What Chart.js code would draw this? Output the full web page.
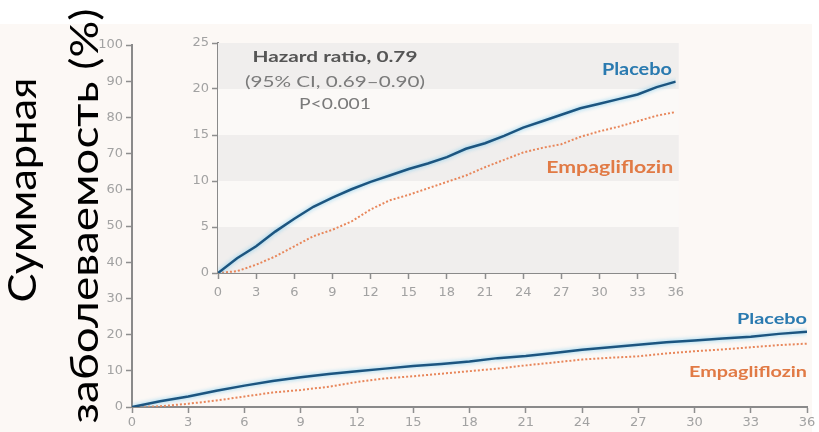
<!DOCTYPE html>
<html lang="ru">
<head>
<meta charset="UTF-8">
<title>Суммарная заболеваемость</title>
<script src="https://cdn.jsdelivr.net/npm/chart.js"></script>
<style>
  html, body { margin: 0; padding: 0; background: #fff; }
  #wrap { position: relative; width: 819px; height: 432px; overflow: hidden; }
  #mainChart { position: absolute; left: 0; top: 0; }
  #insetChart { position: absolute; left: 160px; top: 30px; }
</style>
</head>
<body>
<div id="wrap">
  <canvas id="mainChart" width="819" height="432"></canvas>
  <canvas id="insetChart" width="530" height="272"></canvas>
</div>
<script>
// месяцы наблюдения
const months = [0, 1.5, 3, 4.5, 6, 7.5, 9, 10.5, 12, 13.5, 15, 16.5, 18,
                19.5, 21, 22.5, 24, 25.5, 27, 28.5, 30, 31.5, 33, 34.5, 36];
// кумулятивная частота, %
const placebo = [0, 1.6, 2.9, 4.5, 5.9, 7.2, 8.2, 9.1, 9.9, 10.6, 11.3, 11.9, 12.6,
                 13.5, 14.1, 14.9, 15.8, 16.5, 17.2, 17.9, 18.4, 18.9, 19.4, 20.2, 20.8];
const empagliflozin = [0, 0.2, 0.9, 1.8, 2.9, 4.0, 4.7, 5.6, 6.9, 7.9, 8.5, 9.2, 9.9,
                       10.6, 11.5, 12.3, 13.1, 13.6, 14.0, 14.8, 15.4, 15.9, 16.5, 17.1, 17.5];

const xTicks = [0, 3, 6, 9, 12, 15, 18, 21, 24, 27, 30, 33, 36];
const mainYTicks = [0, 10, 20, 30, 40, 50, 60, 70, 80, 90, 100];
const insetYTicks = [0, 5, 10, 15, 20, 25];
const titleLines = ["Суммарная", "заболеваемость (%)"];
const hazardLines = ["Hazard ratio, 0.79", "(95% CI, 0.69–0.90)", "P<0.001"];

const blue = "#1c5580";
const blueText = "#2a7ab0";
const orange = "#e8865a";
const orangeText = "#e17a45";
const axisGray = "#8a8a8a";
const tickFont = { family: "DejaVu Sans", size: 13 };

function points(ys) {
  return months.map((m, i) => ({ x: m, y: ys[i] }));
}

function datasets() {
  return [
    {
      label: "Placebo",
      data: points(placebo),
      borderColor: blue,
      borderWidth: 2.5,
      pointRadius: 0,
      tension: 0,
      glow: true
    },
    {
      label: "Empagliflozin",
      data: points(empagliflozin),
      borderColor: orange,
      borderWidth: 2,
      borderDash: [2, 2],
      pointRadius: 0,
      tension: 0
    }
  ];
}

function axis(min, max, ticksList, fit, pad) {
  return {
    type: "linear",
    min: min,
    max: max,
    afterBuildTicks: s => { s.ticks = ticksList.map(v => ({ value: v })); },
    afterFit: fit,
    border: { display: true, color: axisGray, width: 2 },
    grid: { display: true, drawOnChartArea: false, drawTicks: true, tickLength: 6, color: "#8e8e8e", tickColor: "#8e8e8e", tickWidth: 1.5 },
    ticks: { autoSkip: false, color: "#a2a2a2", font: tickFont, padding: pad, maxRotation: 0 }
  };
}

// мягкое голубое свечение вокруг линии плацебо
const glowPlugin = {
  id: "glow",
  beforeDatasetDraw(chart, args) {
    const ds = chart.data.datasets[args.index];
    chart.ctx.save();
    if (ds.glow) {
      chart.ctx.shadowColor = "rgba(110,200,240,0.9)";
      chart.ctx.shadowBlur = 4;
    }
  },
  afterDatasetDraw(chart) {
    chart.ctx.restore();
  }
};

// подписи линий и текст в координатах данных; ширина подгоняется растяжением
const labelsPlugin = {
  id: "labels",
  afterDatasetsDraw(chart, args, opts) {
    const ctx = chart.ctx;
    const xs = chart.scales.x, ys = chart.scales.y;
    (opts.items || []).forEach(it => {
      ctx.save();
      ctx.font = it.font;
      ctx.fillStyle = it.color;
      ctx.textAlign = it.align;
      ctx.textBaseline = "middle";
      const sx = it.width ? it.width / ctx.measureText(it.text).width : 1;
      ctx.translate(xs.getPixelForValue(it.x), ys.getPixelForValue(it.y));
      ctx.scale(sx, 1);
      ctx.fillText(it.text, 0, 0);
      ctx.restore();
    });
  }
};

// фон: кремовая подложка и заголовок оси Y
const mainBackground = {
  id: "mainBackground",
  beforeDraw(chart) {
    const ctx = chart.ctx;
    ctx.save();
    ctx.fillStyle = "#fff";
    ctx.fillRect(0, 0, chart.width, chart.height);
    ctx.fillStyle = "#fcf8f5";
    ctx.fillRect(0, 24, 812, chart.height - 24);
    ctx.restore();
  },
  afterDraw(chart) {
    const ctx = chart.ctx;
    const spots = [{ x: 36, y: 190, w: 225 }, { x: 98, y: 216, w: 415 }];
    titleLines.forEach((t, i) => {
      ctx.save();
      ctx.font = "38px Lato";
      const sx = spots[i].w / ctx.measureText(t).width;
      ctx.fillStyle = "#000";
      ctx.textAlign = "center";
      ctx.textBaseline = "alphabetic";
      ctx.translate(spots[i].x, spots[i].y);
      ctx.rotate(-Math.PI / 2);
      ctx.scale(sx, 1);
      ctx.fillText(t, 0, 0);
      ctx.restore();
    });
  }
};

// полосы фона во вставке
const insetBands = {
  id: "insetBands",
  beforeDatasetsDraw(chart) {
    const ctx = chart.ctx, a = chart.chartArea, ys = chart.scales.y;
    ctx.save();
    for (let i = 0; i < insetYTicks.length - 1; i++) {
      const top = ys.getPixelForValue(insetYTicks[i + 1]);
      const bot = ys.getPixelForValue(insetYTicks[i]);
      ctx.fillStyle = i % 2 === 0 ? "#f0eeed" : "#fbf9f7";
      ctx.fillRect(a.left, top, a.right - a.left + 3, bot - top);
    }
    ctx.restore();
  }
};

new Chart(document.getElementById("mainChart"), {
  type: "line",
  data: { datasets: datasets() },
  options: {
    responsive: false,
    animation: false,
    layout: { padding: { top: 45, right: 12, left: 0, bottom: 0 } },
    plugins: {
      legend: { display: false },
      tooltip: { enabled: false },
      labels: {
        items: [
          { text: "Placebo", x: 36, y: 24.3, color: blueText, align: "right", font: "bold 16px Lato", width: 70 },
          { text: "Empagliflozin", x: 36, y: 9.6, color: orangeText, align: "right", font: "bold 16px Lato", width: 118 }
        ]
      }
    },
    scales: {
      x: axis(0, 36, xTicks, s => { s.height = 25; }, 2),
      y: axis(0, 100, mainYTicks, s => { s.width = 132; }, 3)
    }
  },
  plugins: [mainBackground, glowPlugin, labelsPlugin]
});

new Chart(document.getElementById("insetChart"), {
  type: "line",
  data: { datasets: datasets() },
  options: {
    responsive: false,
    animation: false,
    layout: { padding: { top: 13, right: 13, left: 0, bottom: 0 } },
    plugins: {
      legend: { display: false },
      tooltip: { enabled: false },
      labels: {
        items: [
          { text: "Placebo", x: 35.7, y: 22.1, color: blueText, align: "right", font: "bold 17px Lato", width: 70 },
          { text: "Empagliflozin", x: 35.8, y: 11.5, color: orangeText, align: "right", font: "bold 17px Lato", width: 127 },
          { text: hazardLines[0], x: 9.2, y: 23.5, color: "#555", align: "center", font: "bold 16px Lato", width: 165 },
          { text: hazardLines[1], x: 9.2, y: 20.8, color: "#7a7a7a", align: "center", font: "16px Lato", width: 180 },
          { text: hazardLines[2], x: 9.2, y: 18.4, color: "#7a7a7a", align: "center", font: "16px Lato", width: 72 }
        ]
      }
    },
    scales: {
      x: axis(0, 36, xTicks, s => { s.height = 29; }, 6),
      y: axis(0, 25, insetYTicks, s => { s.width = 58; }, 3)
    }
  },
  plugins: [insetBands, glowPlugin, labelsPlugin]
});
</script>
</body>
</html>
